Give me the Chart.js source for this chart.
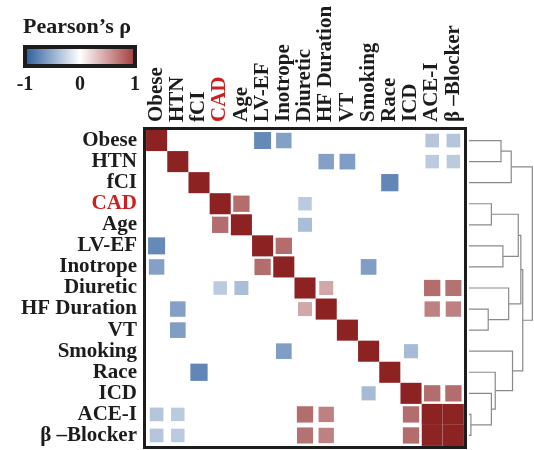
<!DOCTYPE html>
<html>
<head>
<meta charset="utf-8">
<script src="https://cdn.jsdelivr.net/npm/chart.js@4/dist/chart.umd.min.js"></script>
<style>
  html, body { margin: 0; padding: 0; background: #fff; }
  #wrap { width: 534px; height: 450px; }
</style>
</head>
<body>
<div id="wrap"><canvas id="c" width="534" height="450"></canvas></div>
<script>
// Clinical variables, in clustered order (rows top→bottom, columns left→right)
const variables = ['Obese', 'HTN', 'fCI', 'CAD', 'Age', 'LV-EF', 'Inotrope', 'Diuretic',
                   'HF Duration', 'VT', 'Smoking', 'Race', 'ICD', 'ACE-I', 'β –Blocker'];
const highlighted = ['CAD'];

// Significant pairwise Pearson correlations (matrix is symmetric, diagonal = 1)
const pairFirst  = ['Obese', 'Obese',    'Obese', 'Obese',      'HTN',         'HTN', 'HTN',   'HTN',
                    'fCI',  'CAD', 'CAD',      'Age',      'LV-EF',    'Inotrope', 'Diuretic',
                    'Diuretic', 'Diuretic',   'HF Duration', 'HF Duration', 'Smoking', 'ICD',   'ICD',
                    'ACE-I'];
const pairSecond = ['LV-EF', 'Inotrope', 'ACE-I', 'β –Blocker', 'HF Duration', 'VT',  'ACE-I', 'β –Blocker',
                    'Race', 'Age', 'Diuretic', 'Diuretic', 'Inotrope', 'Smoking',  'HF Duration',
                    'ACE-I',    'β –Blocker', 'ACE-I',       'β –Blocker',  'ICD',     'ACE-I', 'β –Blocker',
                    'β –Blocker'];
const pairRho    = [-0.72,   -0.58,      -0.35,   -0.35,        -0.58,         -0.60, -0.32,   -0.32,
                    -0.74,  0.66,  -0.32,      -0.40,      0.66,       -0.60,      0.40,
                    0.66,       0.64,         0.57,          0.57,          -0.42,     0.66,    0.66,
                    0.99];

// Colour bar
const colorbarTitle = 'Pearson’s ρ';
const colorbarTicks = [-1, 0, 1];

// Hierarchical clustering of the variables: [left node, right node, merge height]
// leaves are 0..14, merge k creates node 15 + k
const treeMerges = [
  [13, 14, 0.03],
  [8, 9, 0.30],
  [3, 4, 0.35],
  [12, 15, 0.35],
  [11, 18, 0.41],
  [0, 1, 0.50],
  [5, 6, 0.53],
  [7, 16, 0.62],
  [20, 2, 0.66],
  [10, 19, 0.68],
  [17, 21, 0.77],
  [25, 22, 0.81],
  [26, 24, 0.84],
  [23, 27, 0.99]
];

// ---- derived structures ----
const cells = variables.map((_, i) => ({ x: i, y: i, v: 1 }));
pairRho.forEach((r, k) => {
  const i = variables.indexOf(pairFirst[k]);
  const j = variables.indexOf(pairSecond[k]);
  cells.push({ x: j, y: i, v: r }, { x: i, y: j, v: r });
});

const BLUE = [43, 92, 156], RED = [140, 34, 34];
function rhoColor(r) {
  const end = r < 0 ? BLUE : RED;
  const t = Math.min(1, Math.abs(r));
  const c = end.map(e => Math.round(255 + (e - 255) * t));
  return `rgb(${c[0]},${c[1]},${c[2]})`;
}

const nodeY = variables.map((_, i) => i);
const nodeH = variables.map(() => 0);
const treeLinks = treeMerges.map(([a, b, h]) => {
  const pts = [
    { x: nodeH[a], y: nodeY[a] }, { x: h, y: nodeY[a] },
    { x: h, y: nodeY[b] }, { x: nodeH[b], y: nodeY[b] }
  ];
  nodeY.push((nodeY[a] + nodeY[b]) / 2);
  nodeH.push(h);
  return pts;
});

// ---- layout ----
const areaLeft = 146, areaRight = 464, areaTop = 130, areaBottom = 446;
const treeLeft = 469, treeRight = 533;
const treeSpan = (areaRight - areaLeft) / (treeRight - treeLeft);
const treeMin = -(treeLeft - areaLeft) / (treeRight - treeLeft);

const labelFont = { family: 'Liberation Serif', weight: 'bold', size: 21 };
const ink = '#1c1c1c', accent = '#cc1f1f';

const frame = {
  id: 'frame',
  afterDatasetsDraw(chart) {
    const { ctx, chartArea: a } = chart;
    ctx.save();
    ctx.lineWidth = 3;
    ctx.strokeStyle = ink;
    ctx.strokeRect(a.left - 1.5, a.top - 1.5, a.right - a.left + 3, a.bottom - a.top + 3);
    ctx.restore();
  }
};

const colorbar = {
  id: 'colorbar',
  afterDraw(chart) {
    const ctx = chart.ctx;
    const x0 = 25, x1 = 135, y0 = 47, y1 = 66;
    ctx.save();
    const g = ctx.createLinearGradient(x0, 0, x1, 0);
    g.addColorStop(0, 'rgb(43,92,156)');
    g.addColorStop(0.5, '#ffffff');
    g.addColorStop(1, 'rgb(163,60,60)');
    ctx.fillStyle = g;
    ctx.fillRect(x0, y0, x1 - x0, y1 - y0);
    ctx.lineWidth = 4;
    ctx.strokeStyle = ink;
    ctx.strokeRect(x0, y0, x1 - x0, y1 - y0);
    ctx.fillStyle = ink;
    ctx.textAlign = 'center';
    ctx.textBaseline = 'alphabetic';
    ctx.font = 'bold 22px "Liberation Serif"';
    ctx.fillText(colorbarTitle, 77, 33);
    ctx.font = 'bold 20px "Liberation Serif"';
    colorbarTicks.forEach(v => {
      ctx.fillText(String(v), x0 + (v + 1) / 2 * (x1 - x0), 90);
    });
    ctx.restore();
  }
};

const tickColor = ctx => highlighted.includes(variables[ctx.tick.value]) ? accent : ink;
const cellPx = chart => {
  const sx = chart.scales.x, sy = chart.scales.y;
  return Math.min(Math.abs(sx.getPixelForValue(1) - sx.getPixelForValue(0)),
                  Math.abs(sy.getPixelForValue(1) - sy.getPixelForValue(0)));
};
const cellRadius = ctx => {
  if (!ctx.raw) return 0;
  const frac = 0.6 + 0.4 * ctx.raw.v * ctx.raw.v;
  return cellPx(ctx.chart) * frac / Math.SQRT2;
};

new Chart(document.getElementById('c'), {
  data: {
    datasets: [
      {
        type: 'scatter',
        data: cells,
        xAxisID: 'x', yAxisID: 'y',
        pointStyle: 'rect',
        pointBorderWidth: 0,
        pointBackgroundColor: ctx => ctx.raw ? rhoColor(ctx.raw.v) : 'transparent',
        pointRadius: cellRadius,
        pointHoverRadius: cellRadius
      },
      ...treeLinks.map(pts => ({
        type: 'scatter',
        data: pts,
        xAxisID: 'xTree', yAxisID: 'y',
        showLine: true,
        clip: false,
        borderColor: '#8a8a8a',
        borderWidth: 1.2,
        pointRadius: 0,
        tension: 0
      }))
    ]
  },
  options: {
    responsive: false,
    animation: false,
    events: [],
    layout: { padding: { left: 0, top: 0, right: 534 - areaRight, bottom: 450 - areaBottom } },
    plugins: { legend: { display: false }, tooltip: { enabled: false } },
    scales: {
      x: {
        type: 'linear', position: 'top', min: -0.5, max: 14.5,
        grid: { display: false, drawTicks: false }, border: { display: false },
        afterBuildTicks: s => { s.ticks = variables.map((_, i) => ({ value: i })); },
        afterFit: s => { s.height = areaTop; s.paddingLeft = 0; s.paddingRight = 0; },
        ticks: {
          autoSkip: false, minRotation: 90, maxRotation: 90, padding: 8,
          labelOffset: 25,
          font: labelFont, color: tickColor,
          callback: v => variables[v]
        }
      },
      y: {
        type: 'linear', position: 'left', reverse: true, min: -0.5, max: 14.5,
        grid: { display: false, drawTicks: false }, border: { display: false },
        afterBuildTicks: s => { s.ticks = variables.map((_, i) => ({ value: i })); },
        afterFit: s => { s.width = areaLeft; s.paddingTop = 0; s.paddingBottom = 0; },
        ticks: {
          autoSkip: false, padding: 9,
          font: labelFont, color: tickColor,
          callback: v => variables[v]
        }
      },
      xTree: {
        type: 'linear', axis: 'x', display: false,
        min: treeMin, max: treeMin + treeSpan
      }
    }
  },
  plugins: [frame, colorbar]
});
</script>
</body>
</html>
